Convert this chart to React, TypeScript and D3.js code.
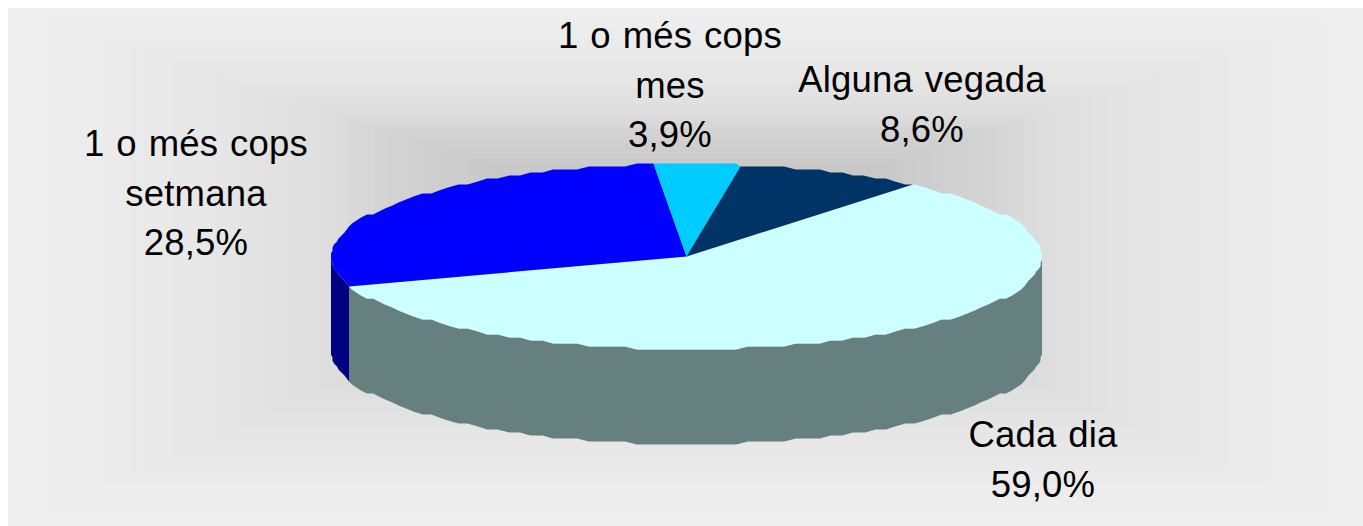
import { useMemo } from 'react';
import * as d3 from 'd3';

// ── Data ─────────────────────────────────────────────────────────────────────
const CATEGORIES = ['Cada dia', '1 o més cops setmana', '1 o més cops mes', 'Alguna vegada'];
const VALUES = [59.0, 28.5, 3.9, 8.6];
const VALUE_LABELS = ['59,0%', '28,5%', '3,9%', '8,6%'];
const NAME_LINES = [['Cada dia'], ['1 o més cops', 'setmana'], ['1 o més cops', 'mes'], ['Alguna vegada']];

const TOP_COLORS = ['#ccffff', '#0000ff', '#00ccff', '#003366'];
const SIDE_COLORS = ['#668080', '#000080', '#006680', '#001a33'];

// label anchors: centre x, first baseline
const LABEL_POS = [[1043, 447], [196, 156], [670, 48], [922, 92]];

const W = 1363, H = 526;
const CX = 686.5, CY = 256.5, RX = 355.5, RY = 92.5, DEPTH = 95;
const START = (39.6 * Math.PI) / 180;
const LINE_H = 49.5;
// the rim in the picture is stepped, not a clean ellipse
const SNAP_X = 1.5, SNAP_Y = 3;
const STEP = (2 * Math.PI) / 180;

// background: rectangular gradient, dark centre sits above the middle of the panel
const PANEL = { x0: 8, y0: 8, x1: W, y1: H, mx: 686, my: 230 };
const BG_STEPS = d3.range(1, 0, -0.02);
const bgColor = d3.scaleLinear<string>()
  .domain([0, 0.29, 0.46, 0.52, 0.6, 0.75, 1])
  .range(['#c0c0c0', '#c8c8c8', '#d4d4d4', '#dcdcdc', '#e1e1e1', '#e8e8e8', '#efefef']);

const snap = (v: number, c: number, s: number) => c + Math.round((v - c) / s) * s;
const rimX = (a: number) => snap(CX + RX * Math.sin(a), CX, SNAP_X);
const rimY = (a: number) => snap(CY - RY * Math.cos(a), CY, SNAP_Y);

// angles along a slice's rim, on a shared grid so that neighbours line up
const rimAngles = (a0: number, a1: number) => {
  const first = Math.ceil(a0 / STEP + 0.001) * STEP;
  return [a0, ...d3.range(first, a1, STEP), a1];
};

export default function App() {
  const slices = useMemo(
    () => d3.pie<number>().sort(null).startAngle(START).endAngle(START + 2 * Math.PI)(VALUES),
    []
  );

  const line = d3.line<[number, number]>();
  const topPath = (s: d3.PieArcDatum<number>) => {
    const pts = rimAngles(s.startAngle, s.endAngle).map(a => [rimX(a), rimY(a)] as [number, number]);
    return line([[CX, CY], ...pts]) + 'Z';
  };

  const wall = d3.area<number>()
    .x(rimX)
    .y0(rimY)
    .y1(a => rimY(a) + DEPTH);

  // only the front half of the rim shows
  const wallPath = (s: d3.PieArcDatum<number>) => {
    const a0 = Math.max(s.startAngle, Math.PI / 2);
    const a1 = Math.min(s.endAngle, (3 * Math.PI) / 2);
    if (a1 <= a0) return null;
    return wall(rimAngles(a0, a1));
  };

  return (
    <svg width={W} height={H} viewBox={`0 0 ${W} ${H}`}
      style={{ position: 'absolute', left: 0, top: 0, display: 'block', background: '#fff' }}>
      <g>
        {BG_STEPS.map(t => {
          const x0 = PANEL.mx - (PANEL.mx - PANEL.x0) * t;
          const x1 = PANEL.mx + (PANEL.x1 - PANEL.mx) * t;
          const y0 = PANEL.my - (PANEL.my - PANEL.y0) * t;
          const y1 = PANEL.my + (PANEL.y1 - PANEL.my) * t;
          return <rect key={t} x={x0} y={y0} width={x1 - x0} height={y1 - y0} fill={bgColor(t)} />;
        })}
      </g>

      <g>
        {slices.map((s, i) => {
          const d = wallPath(s);
          return d ? <path key={i} d={d} fill={SIDE_COLORS[i]} /> : null;
        })}
      </g>

      <g>
        {slices.map((s, i) => (
          <path key={CATEGORIES[i]} d={topPath(s)} fill={TOP_COLORS[i]} />
        ))}
      </g>

      <g fontFamily="'Liberation Sans', Arial, sans-serif" fontSize={36.5} fill="#000"
        textAnchor="middle" letterSpacing={0.2} wordSpacing={1.5}>
        {CATEGORIES.map((c, i) => {
          const lines = [...NAME_LINES[i], VALUE_LABELS[i]];
          const [x, y] = LABEL_POS[i];
          return (
            <text key={c} x={x} y={y}>
              {lines.map((l, j) => (
                <tspan key={j} x={x} y={y + j * LINE_H}>{l}</tspan>
              ))}
            </text>
          );
        })}
      </g>
    </svg>
  );
}
